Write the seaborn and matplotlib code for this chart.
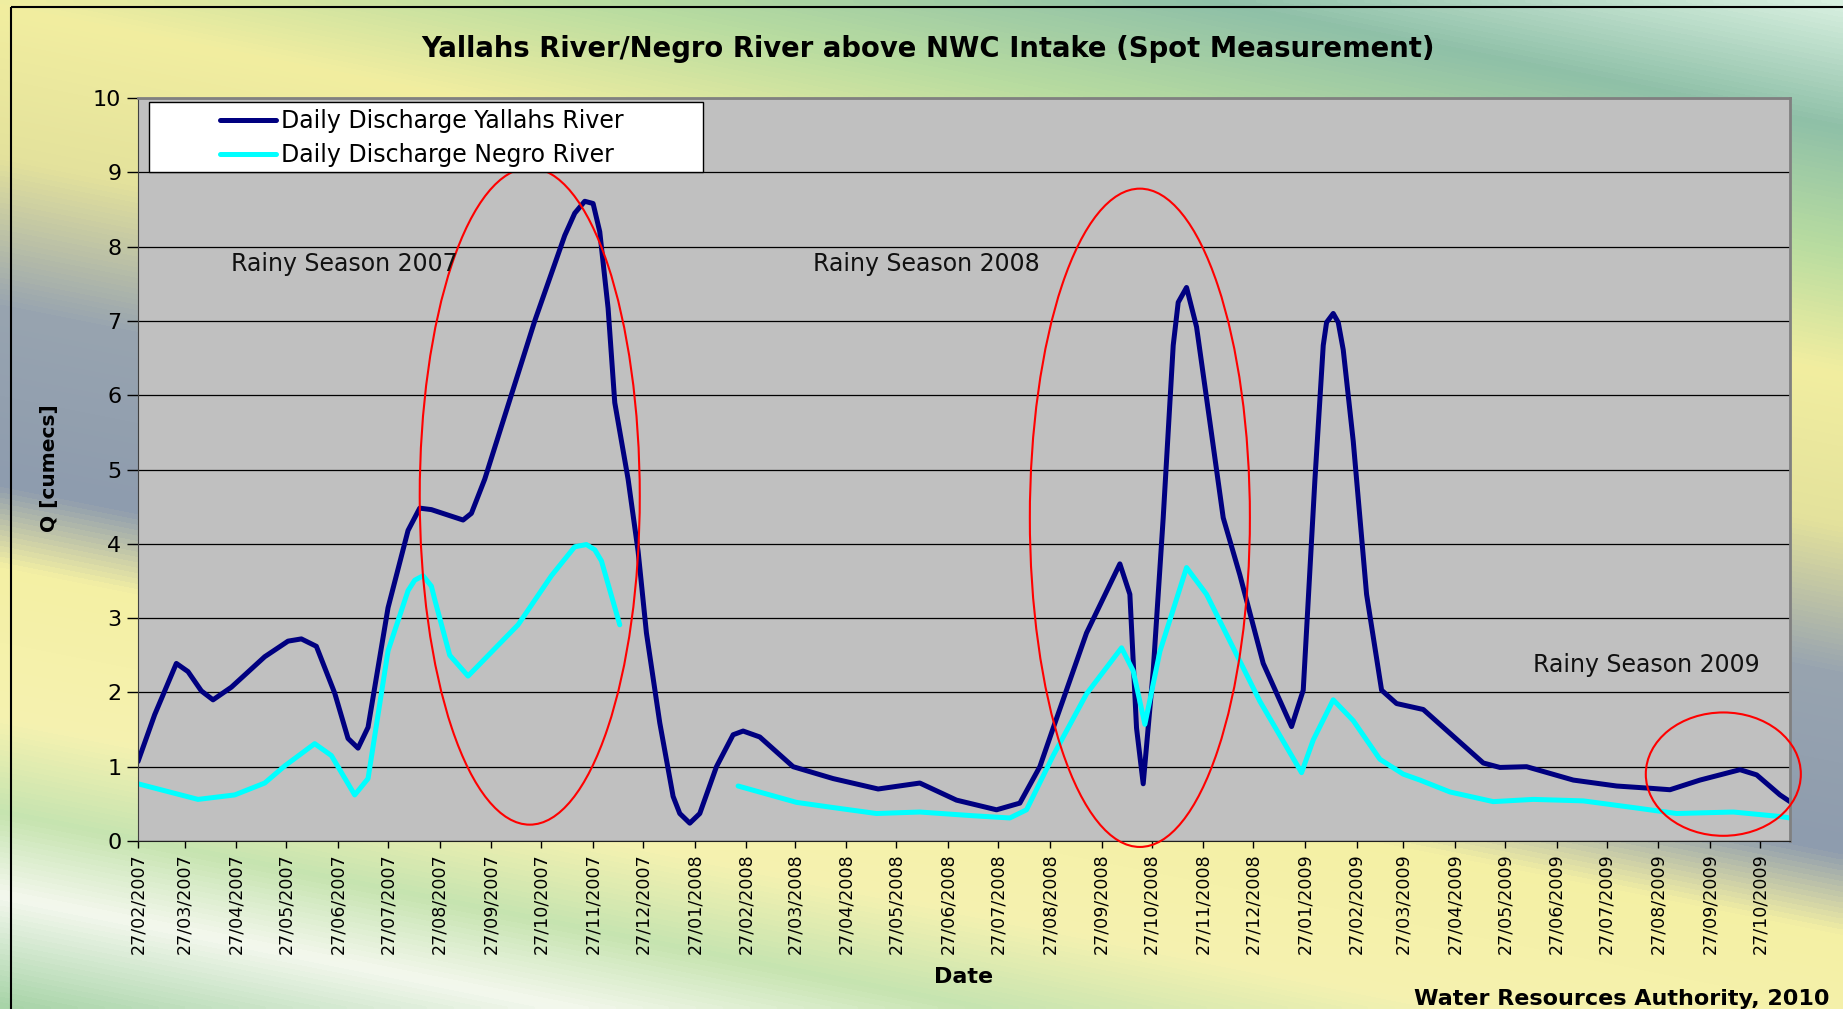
import numpy as np
import pandas as pd
import matplotlib
matplotlib.use("Agg")
import matplotlib.pyplot as plt
import matplotlib.dates as mdates
from matplotlib.colors import LinearSegmentedColormap
from matplotlib.patches import Ellipse, Rectangle
import seaborn as sns

yallahs_dates = [
    "2007-02-27", "2007-03-09", "2007-03-22", "2007-03-29", "2007-04-06", "2007-04-13",
    "2007-04-24", "2007-05-14", "2007-05-28", "2007-06-05", "2007-06-14", "2007-06-25",
    "2007-07-03", "2007-07-09", "2007-07-15", "2007-07-27", "2007-08-08", "2007-08-15",
    "2007-08-22", "2007-09-10", "2007-09-15", "2007-09-23", "2007-10-23", "2007-11-10",
    "2007-11-16", "2007-11-22", "2007-11-27", "2007-12-01", "2007-12-06", "2007-12-10",
    "2007-12-18", "2007-12-24", "2007-12-29", "2008-01-06", "2008-01-14", "2008-01-18",
    "2008-01-24", "2008-01-30", "2008-02-09", "2008-02-19", "2008-02-25", "2008-03-06",
    "2008-03-26", "2008-04-19", "2008-05-16", "2008-06-10", "2008-07-02", "2008-07-26",
    "2008-08-09", "2008-08-21", "2008-08-29", "2008-09-18", "2008-10-08", "2008-10-14",
    "2008-10-18", "2008-10-22", "2008-10-28", "2008-11-03", "2008-11-09", "2008-11-12",
    "2008-11-17", "2008-11-23", "2008-12-01", "2008-12-09", "2008-12-19", "2009-01-02",
    "2009-01-19", "2009-01-26", "2009-02-02", "2009-02-07", "2009-02-09", "2009-02-13",
    "2009-02-16", "2009-02-19", "2009-02-25", "2009-03-05", "2009-03-14", "2009-03-23",
    "2009-04-08", "2009-04-24", "2009-05-14", "2009-05-24", "2009-06-09", "2009-07-07",
    "2009-08-02", "2009-08-22", "2009-09-03", "2009-09-21", "2009-10-15", "2009-10-25",
    "2009-11-08", "2009-11-14",
]
yallahs_q = [
    1.07, 1.70, 2.39, 2.28, 2.02, 1.90,
    2.07, 2.48, 2.69, 2.72, 2.62, 1.99,
    1.38, 1.25, 1.53, 3.14, 4.18, 4.48,
    4.46, 4.32, 4.41, 4.87, 7.00, 8.15,
    8.45, 8.61, 8.58, 8.20, 7.17, 5.90,
    4.87, 3.90, 2.80, 1.59, 0.60, 0.37,
    0.24, 0.37, 1.00, 1.43, 1.48, 1.40,
    1.00, 0.84, 0.70, 0.78, 0.55, 0.42,
    0.51, 1.00, 1.52, 2.80, 3.73, 3.32,
    1.52, 0.77, 2.29, 4.35, 6.67, 7.25,
    7.45, 6.92, 5.64, 4.35, 3.58, 2.39,
    1.54, 2.03, 4.86, 6.67, 6.98, 7.10,
    6.98, 6.61, 5.38, 3.32, 2.03, 1.85,
    1.77, 1.45, 1.05, 0.99, 1.00, 0.82,
    0.74, 0.71, 0.69, 0.82, 0.96, 0.89,
    0.62, 0.53,
]

# NaN marks the period without Negro readings (line is broken there)
negro_dates = [
    "2007-02-27", "2007-04-04", "2007-04-26", "2007-05-14", "2007-05-26", "2007-06-13",
    "2007-06-23", "2007-07-07", "2007-07-15", "2007-07-27", "2007-08-08", "2007-08-12",
    "2007-08-17", "2007-08-22", "2007-08-24", "2007-09-02", "2007-09-13", "2007-10-13",
    "2007-11-02", "2007-11-16", "2007-11-23", "2007-11-28", "2007-12-02", "2007-12-13",
    "2008-01-15",
    "2008-02-22", "2008-03-28", "2008-04-19", "2008-05-15", "2008-06-10", "2008-07-12",
    "2008-08-03", "2008-08-13", "2008-08-29", "2008-09-18", "2008-10-09", "2008-10-16",
    "2008-10-23", "2008-11-01", "2008-11-17", "2008-11-29", "2008-12-15", "2008-12-31",
    "2009-01-25", "2009-02-01", "2009-02-13", "2009-02-25", "2009-03-13", "2009-03-27",
    "2009-04-06", "2009-04-24", "2009-05-20", "2009-06-13", "2009-07-13", "2009-08-12",
    "2009-09-07", "2009-10-11", "2009-11-08", "2009-11-14",
]
negro_q = [
    0.77, 0.56, 0.62, 0.78, 1.01, 1.31,
    1.15, 0.62, 0.84, 2.56, 3.37, 3.51,
    3.57, 3.43, 3.25, 2.50, 2.22, 2.91,
    3.57, 3.96, 3.99, 3.92, 3.77, 2.91,
    np.nan,
    0.74, 0.52, 0.45, 0.37, 0.39, 0.34,
    0.31, 0.42, 1.15, 1.98, 2.60, 2.29,
    1.57, 2.55, 3.68, 3.32, 2.60, 1.88,
    0.92, 1.36, 1.90, 1.62, 1.10, 0.90,
    0.82, 0.66, 0.53, 0.56, 0.54, 0.45,
    0.37, 0.39, 0.33, 0.31,
]

series_names = ["Daily Discharge Yallahs River", "Daily Discharge Negro River"]
season_labels = ["Rainy Season 2007", "Rainy Season 2008", "Rainy Season 2009"]


def build_frame():
    parts = []
    for name, dates, q in [(series_names[0], yallahs_dates, yallahs_q),
                           (series_names[1], negro_dates, negro_q)]:
        d = pd.DataFrame({"date": pd.to_datetime(dates), "Q": q})
        d["segment"] = d["Q"].isna().cumsum()
        d["series"] = name
        parts.append(d.dropna())
    return pd.concat(parts, ignore_index=True)


df = build_frame()

sns.set_style("ticks")
plt.rcParams["font.family"] = ["DejaVu Sans"]
plt.rcParams["text.color"] = "black"
plt.rcParams["xtick.color"] = "black"
plt.rcParams["ytick.color"] = "black"

W, H = 1843, 1009
fig = plt.figure(figsize=(W / 100, H / 100), dpi=100)

# slide background
bg = fig.add_axes([0, 0, 1, 1], zorder=0)
yy, xx = np.mgrid[0:H:220j, 0:W:400j]
s = (yy - 0.2 * xx + 370) / 1380
bg_cmap = LinearSegmentedColormap.from_list("bg", [
    (0.00, "#d8f0e0"), (0.09, "#8fc0a8"), (0.18, "#b8dca0"), (0.27, "#f2eea0"),
    (0.38, "#e4e29c"), (0.49, "#98a4b0"), (0.62, "#8e9cae"), (0.68, "#f4f0a4"),
    (0.79, "#f6f2b0"), (0.86, "#c6e4b0"), (0.92, "#f4f8ee"), (1.00, "#a8d4a8"),
])
bg.imshow(s, cmap=bg_cmap, vmin=0, vmax=1, aspect="auto", extent=[0, W, H, 0],
          interpolation="bilinear")
bg.axis("off")
bg.add_patch(Rectangle((11, 7), W, H, fill=False, edgecolor="black", lw=1.5))
bg.set_xlim(0, W)
bg.set_ylim(H, 0)

ax = fig.add_axes([138 / W, 1 - 841 / H, (1790 - 138) / W, (841 - 98) / H], zorder=1)
ax.set_facecolor("#c0c0c0")

sns.lineplot(data=df, x="date", y="Q", hue="series", units="segment", estimator=None,
             hue_order=series_names, palette=["#000080", "#00ffff"], linewidth=3.6,
             solid_joinstyle="round", solid_capstyle="round", ax=ax, legend=True)

ax.set_xlim(pd.Timestamp("2007-02-27"), pd.Timestamp("2009-11-14"))
ax.set_ylim(0, 10)
ax.set_yticks(range(0, 11))
ax.yaxis.grid(True, color="black", lw=0.9)
ax.set_axisbelow(True)
ax.xaxis.set_major_locator(mdates.MonthLocator(bymonthday=27))
ax.xaxis.set_major_formatter(mdates.DateFormatter("%d/%m/%Y"))
ax.tick_params(axis="x", labelrotation=90, labelsize=12.6, length=5, width=1, pad=4)
ax.tick_params(axis="y", labelsize=16, length=8, width=1, pad=4)
ax.set_xlabel("")
ax.set_ylabel("")
for side in ["top", "right"]:
    ax.spines[side].set_color("#808080")
    ax.spines[side].set_linewidth(2)
ax.spines["left"].set_color("#404040")
ax.spines["bottom"].set_color("#202020")

# legend box
ax.add_patch(Rectangle((0.0067, 0.9004), 0.3353, 0.0942, transform=ax.transAxes,
                       facecolor="white", edgecolor="black", lw=1, zorder=4))
leg = ax.legend(loc="upper left", bbox_to_anchor=(0.0496, 0.985), frameon=False,
                fontsize=17, handlelength=2.37, handletextpad=0.2, labelspacing=0.42,
                borderpad=0, borderaxespad=0)
leg.set_zorder(5)
for line in leg.get_lines():
    line.set_linewidth(3.6)

# highlighted rainy seasons
for centre, days, qc, qh in [("2007-10-20", 132, 4.64, 8.84),
                             ("2008-10-20", 132, 4.35, 8.86),
                             ("2009-10-05", 93, 0.90, 1.66)]:
    ax.add_patch(Ellipse((mdates.date2num(pd.Timestamp(centre)), qc), days, qh,
                         fill=False, edgecolor="red", lw=1.5, zorder=3, clip_on=False))

for label, (tx, ty) in zip(season_labels, [(0.1247, 0.777), (0.477, 0.777), (0.9128, 0.237)]):
    ax.text(tx, ty, label, transform=ax.transAxes, ha="center", va="center",
            fontsize=17, color="#111111")

fig.text(928 / W, 1 - 49 / H, "Yallahs River/Negro River above NWC Intake (Spot Measurement)",
         ha="center", va="center", fontsize=19.8, fontweight="bold")
fig.text(50 / W, 1 - 468 / H, "Q [cumecs]", rotation=90, ha="center", va="center",
         fontsize=14.5, fontweight="bold")
fig.text(964 / W, 1 - 977 / H, "Date", ha="center", va="center", fontsize=16, fontweight="bold")
fig.text(1829 / W, 1 - 1005 / H, "Water Resources Authority, 2010", ha="right", va="baseline",
         fontsize=16, fontweight="bold")

fig.savefig("out.png", dpi=100)
